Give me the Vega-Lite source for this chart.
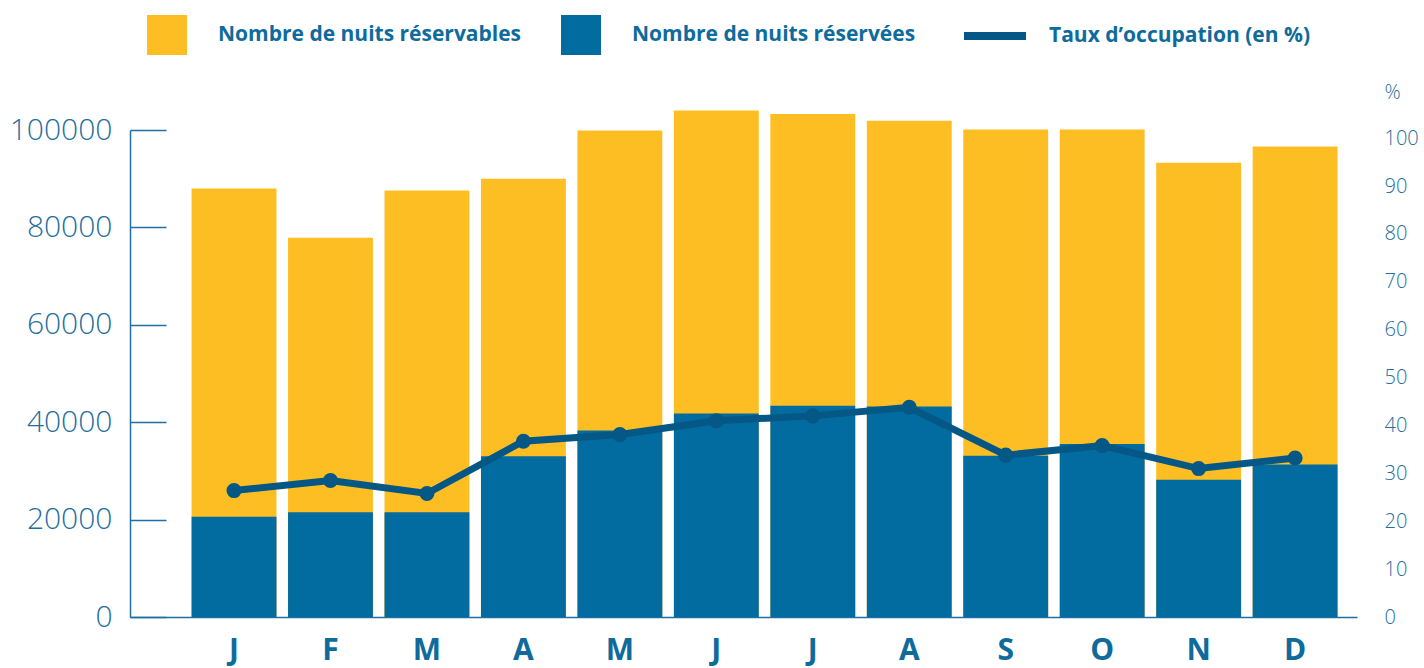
{
  "$schema": "https://vega.github.io/schema/vega-lite/v6.json",
  "width": 1227,
  "height": 487,
  "autosize": {"type": "none"},
  "padding": {"left": 130, "top": 130, "right": 67, "bottom": 51},
  "background": "white",
  "config": {"view": {"stroke": null}, "font": "Open Sans"},
  "data": {
    "values": [
      {"mois": "Janvier", "reservables": 88000, "reservees": 20600, "taux": 26.4},
      {"mois": "Février", "reservables": 77900, "reservees": 21500, "taux": 28.5},
      {"mois": "Mars", "reservables": 87600, "reservees": 21500, "taux": 25.8},
      {"mois": "Avril", "reservables": 90000, "reservees": 33000, "taux": 36.7},
      {"mois": "Mai", "reservables": 99900, "reservees": 38300, "taux": 38.1},
      {"mois": "Juin", "reservables": 104000, "reservees": 41800, "taux": 41.0},
      {"mois": "Juillet", "reservables": 103300, "reservees": 43400, "taux": 42.0},
      {"mois": "Août", "reservables": 101900, "reservees": 43200, "taux": 43.8},
      {"mois": "Septembre", "reservables": 100100, "reservees": 33100, "taux": 33.8},
      {"mois": "Octobre", "reservables": 100100, "reservees": 35500, "taux": 35.8},
      {"mois": "Novembre", "reservables": 93300, "reservees": 28200, "taux": 31.0},
      {"mois": "Décembre", "reservables": 96600, "reservees": 31300, "taux": 33.2}
    ]
  },
  "encoding": {
    "x": {
      "field": "mois",
      "type": "nominal",
      "sort": null,
      "scale": {"paddingInner": 0.12, "paddingOuter": 0.42, "align": 0.76},
      "axis": {
        "title": null,
        "domain": true,
        "domainColor": "#1f6fa0",
        "domainWidth": 1.5,
        "ticks": false,
        "labelAngle": 0,
        "labelFont": "Open Sans",
        "labelFontSize": 30,
        "labelFontWeight": "bold",
        "labelColor": "#0e6b9c",
        "labelPadding": 18,
        "labelExpr": "upper(substring(datum.label, 0, 1))"
      }
    }
  },
  "layer": [
    {
      "layer": [
        {
          "mark": {"type": "bar"},
          "encoding": {
            "y": {
              "field": "reservables",
              "type": "quantitative",
              "scale": {"domain": [0, 100000], "nice": false},
              "axis": {
                "title": null,
                "values": [0, 20000, 40000, 60000, 80000, 100000],
                "format": "d",
                "grid": false,
                "domain": true,
                "domainColor": "#1f6fa0",
                "domainWidth": 1.5,
                "ticks": true,
                "tickSize": -36,
                "tickColor": "#1f6fa0",
                "tickWidth": 1.5,
                "labelPadding": 54,
                "labelFont": "Open Sans",
                "labelFontWeight": 300,
                "labelFontSize": 30,
                "labelColor": "#1f6fa0"
              }
            },
            "fill": {
              "datum": "Nombre de nuits réservables",
              "type": "nominal",
              "scale": {
                "domain": ["Nombre de nuits réservables", "Nombre de nuits réservées"],
                "range": ["#fdbe23", "#026b9f"]
              },
              "legend": {
                "orient": "none",
                "legendX": 17,
                "legendY": -115,
                "direction": "horizontal",
                "title": null,
                "symbolSize": 1600,
                "symbolType": "square",
                "symbolOpacity": 1,
                "symbolStrokeWidth": 0,
                "labelFont": "Open Sans",
                "labelFontSize": 21,
                "labelFontWeight": "bold",
                "labelColor": "#0e6b9c",
                "labelOffset": 31,
                "labelLimit": 0,
                "columnPadding": 39
              }
            }
          }
        },
        {
          "mark": {"type": "bar"},
          "encoding": {
            "y": {"field": "reservees", "type": "quantitative"},
            "fill": {"datum": "Nombre de nuits réservées", "type": "nominal"}
          }
        }
      ]
    },
    {
      "layer": [
        {
          "mark": {"type": "line", "strokeWidth": 7},
          "encoding": {
            "y": {
              "field": "taux",
              "type": "quantitative",
              "scale": {"domain": [0, 101.7], "nice": false},
              "axis": {
                "orient": "right",
                "title": "%",
                "titleAngle": 0,
                "titleAlign": "left",
                "titleBaseline": "middle",
                "titleX": 27,
                "titleY": -38,
                "titleFont": "Open Sans",
                "titleFontSize": 20,
                "titleFontWeight": 300,
                "titleColor": "#1f6fa0",
                "values": [0, 10, 20, 30, 40, 50, 60, 70, 80, 90, 100],
                "grid": false,
                "domain": false,
                "ticks": false,
                "labelPadding": 27,
                "labelFont": "Open Sans",
                "labelFontWeight": 300,
                "labelFontSize": 20,
                "labelColor": "#1f6fa0"
              }
            },
            "stroke": {
              "datum": "Taux d’occupation (en %)",
              "type": "nominal",
              "scale": {"domain": ["Taux d’occupation (en %)"], "range": ["#055785"]},
              "legend": {
                "orient": "none",
                "legendX": 830,
                "legendY": -129,
                "title": null,
                "symbolType": "stroke",
                "symbolSize": 3844,
                "symbolStrokeWidth": 8,
                "symbolOpacity": 1,
                "labelFont": "Open Sans",
                "labelFontSize": 21,
                "labelFontWeight": "bold",
                "labelColor": "#0e6b9c",
                "labelOffset": 19,
                "labelLimit": 0
              }
            }
          }
        },
        {
          "mark": {"type": "point", "filled": true, "size": 227, "opacity": 1, "color": "#055785"},
          "encoding": {
            "y": {"field": "taux", "type": "quantitative"}
          }
        }
      ]
    }
  ],
  "resolve": {"scale": {"y": "independent"}}
}
